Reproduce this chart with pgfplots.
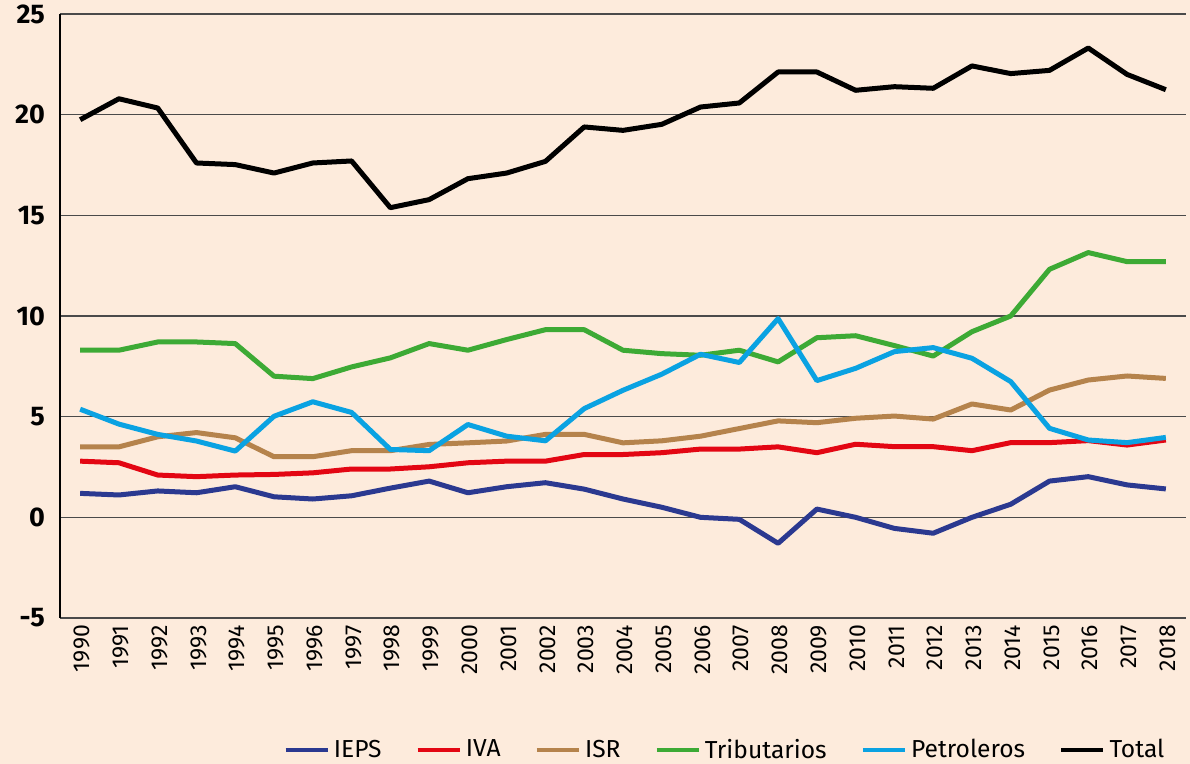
\documentclass[border=0pt]{standalone}
\usepackage{fontspec}
\setmainfont{Fira Sans}
\usepackage{pgfplots}
\pgfplotsset{compat=1.18}
\definecolor{bgc}{HTML}{FDEBDC}
\definecolor{ieps}{HTML}{2B3990}
\definecolor{iva}{HTML}{E30613}
\definecolor{isr}{HTML}{B5834C}
\definecolor{trib}{HTML}{3DAA35}
\definecolor{petro}{HTML}{0AA2E2}
\definecolor{gridc}{HTML}{4A4A4A}
\begin{document}
\begin{tikzpicture}
\fill[bgc] (-30pt,-73pt) rectangle (565pt,309pt);
\path[use as bounding box] (-30pt,-73pt) rectangle (565pt,309pt);
\begin{axis}[
  at={(0pt,0pt)}, anchor=south west,
  scale only axis, width=563pt, height=302pt,
  xmin=1989.48, xmax=2018.52, ymin=-5, ymax=25,
  separate axis lines,
  axis x line*=bottom, axis y line*=left,
  x axis line style={draw=none},
  y axis line style={-, black, line width=0.7pt},
  ytick={-5,0,5,10,15,20,25},
  yticklabels={-5,0,5,10,15,20,25},
  xtick={1990,...,2018},
  xticklabels={1990,1991,1992,1993,1994,1995,1996,1997,1998,1999,2000,2001,2002,2003,2004,2005,2006,2007,2008,2009,2010,2011,2012,2013,2014,2015,2016,2017,2018},
  major tick length=0pt,
  ymajorgrids, grid style={gridc, line width=0.6pt},
  yticklabel style={font=\fontsize{13.5}{15}\selectfont\bfseries, xshift=-4pt},
  xticklabel style={rotate=90, anchor=east, font=\fontsize{11.5}{13}\selectfont, yshift=-1pt},
  every axis plot/.append style={line width=2.5pt, line join=round, no markers},
  legend columns=6,
  legend style={at={(axis description cs:0.99,-0.2185)}, anchor=east, draw=none, fill=none,
    font=\fontsize{12.3}{14}\selectfont,
    /tikz/every even column/.append style={column sep=15pt}},
  legend image code/.code={\draw[#1, line width=2.2pt] (0pt,0pt) -- (21pt,0pt);},
]
\addplot[ieps] coordinates {(1990,1.19)(1991,1.11)(1992,1.31)(1993,1.22)(1994,1.52)(1995,1.02)(1996,0.91)(1997,1.07)(1998,1.45)(1999,1.80)(2000,1.22)(2001,1.52)(2002,1.72)(2003,1.40)(2004,0.91)(2005,0.50)(2006,0.0)(2007,-0.10)(2008,-1.29)(2009,0.41)(2010,0.0)(2011,-0.55)(2012,-0.79)(2013,0.0)(2014,0.65)(2015,1.80)(2016,2.02)(2017,1.61)(2018,1.41)};
\addlegendentry{IEPS}
\addplot[iva] coordinates {(1990,2.79)(1991,2.71)(1992,2.10)(1993,2.02)(1994,2.10)(1995,2.13)(1996,2.21)(1997,2.40)(1998,2.40)(1999,2.51)(2000,2.71)(2001,2.79)(2002,2.79)(2003,3.12)(2004,3.12)(2005,3.21)(2006,3.39)(2007,3.39)(2008,3.50)(2009,3.21)(2010,3.63)(2011,3.51)(2012,3.51)(2013,3.31)(2014,3.71)(2015,3.71)(2016,3.81)(2017,3.59)(2018,3.84)};
\addlegendentry{IVA}
\addplot[isr] coordinates {(1990,3.50)(1991,3.50)(1992,4.00)(1993,4.21)(1994,3.95)(1995,3.01)(1996,3.01)(1997,3.31)(1998,3.31)(1999,3.62)(2000,3.70)(2001,3.79)(2002,4.12)(2003,4.12)(2004,3.70)(2005,3.80)(2006,4.03)(2007,4.41)(2008,4.79)(2009,4.70)(2010,4.92)(2011,5.03)(2012,4.88)(2013,5.63)(2014,5.33)(2015,6.32)(2016,6.82)(2017,7.02)(2018,6.90)};
\addlegendentry{ISR}
\addplot[trib] coordinates {(1990,8.30)(1991,8.30)(1992,8.71)(1993,8.71)(1994,8.63)(1995,7.01)(1996,6.89)(1997,7.47)(1998,7.92)(1999,8.63)(2000,8.30)(2001,8.83)(2002,9.32)(2003,9.32)(2004,8.30)(2005,8.13)(2006,8.05)(2007,8.30)(2008,7.72)(2009,8.92)(2010,9.02)(2011,8.53)(2012,8.01)(2013,9.22)(2014,10.0)(2015,12.32)(2016,13.15)(2017,12.70)(2018,12.70)};
\addlegendentry{Tributarios}
\addplot[petro] coordinates {(1990,5.37)(1991,4.63)(1992,4.12)(1993,3.79)(1994,3.29)(1995,5.02)(1996,5.74)(1997,5.21)(1998,3.37)(1999,3.31)(2000,4.61)(2001,4.03)(2002,3.80)(2003,5.40)(2004,6.31)(2005,7.11)(2006,8.10)(2007,7.69)(2008,9.87)(2009,6.79)(2010,7.40)(2011,8.23)(2012,8.43)(2013,7.90)(2014,6.74)(2015,4.42)(2016,3.84)(2017,3.71)(2018,3.97)};
\addlegendentry{Petroleros}
\addplot[black] coordinates {(1990,19.75)(1991,20.79)(1992,20.33)(1993,17.60)(1994,17.52)(1995,17.10)(1996,17.60)(1997,17.70)(1998,15.38)(1999,15.78)(2000,16.82)(2001,17.10)(2002,17.68)(2003,19.39)(2004,19.22)(2005,19.52)(2006,20.38)(2007,20.58)(2008,22.12)(2009,22.12)(2010,21.21)(2011,21.39)(2012,21.31)(2013,22.42)(2014,22.04)(2015,22.20)(2016,23.31)(2017,22.00)(2018,21.24)};
\addlegendentry{Total}
\end{axis}
\end{tikzpicture}
\end{document}
